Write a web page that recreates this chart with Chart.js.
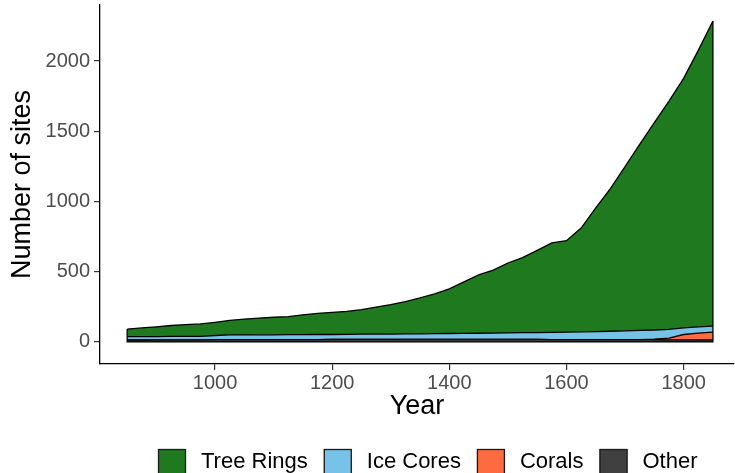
<!DOCTYPE html>
<html>
<head>
<meta charset="utf-8">
<script src="https://cdn.jsdelivr.net/npm/chart.js@4/dist/chart.umd.min.js"></script>
<style>
  html, body { margin: 0; padding: 0; background: #ffffff; }
  #wrap { width: 735px; height: 473px; }
</style>
</head>
<body>
<div id="wrap"><canvas id="c" width="735" height="473"></canvas></div>
<script>
const years = [850,875,900,925,950,975,1000,1025,1050,1075,1100,1125,1150,1175,1200,1225,1250,1275,1300,1325,1350,1375,1400,1425,1450,1475,1500,1525,1550,1575,1600,1625,1650,1675,1700,1725,1750,1775,1800,1825,1850];
const otherSites = [14,14,15,15,15,15,16,16,16,17,17,17,17,17,18,18,18,18,18,18,18,18,18,18,18,18,18,18,18,17,17,17,17,17,16,16,16,15,15,15,15];
const coralSites = [0,0,0,0,0,0,0,0,0,0,0,0,0,0,0,0,0,0,0,0,0,0,0,0,0,0,0,0,0,0,0,0,0,0,0,1,4,12,38,48,55];
const iceCoreSites = [24,24,23,24,24,25,30,34,34,34,34,35,35,36,35,36,37,37,38,39,40,41,42,43,44,45,46,48,49,51,53,55,57,59,63,65,65,63,47,45,42];
const treeRingSites = [54,62,70,78,84,88,94,103,113,119,125,128,141,150,158,163,175,193,210,230,255,283,318,367,415,449,498,534,585,637,651,739,880,1016,1169,1325,1476,1625,1777,1968,2173];
const yTicks = [0,500,1000,1500,2000];
const xTicks = [1000,1200,1400,1600,1800];
const seriesNames = ['Tree Rings','Ice Cores','Corals','Other'];
const seriesColors = ['#1f7a1f','#76c3e7','#ff6b40','#404040'];

const FONT = '"Liberation Sans", Arial, sans-serif';

function pts(arr){ return years.map((y,i)=>({x:y, y:arr[i]})); }

const outlinePlugin = {
  id: 'outline',
  afterDatasetsDraw(chart){
    const ctx = chart.ctx;
    const ys = chart.scales.y;
    const topMeta = chart.getDatasetMeta(3);
    const n = topMeta.data.length;
    const y0 = ys.getPixelForValue(0);
    const xa = topMeta.data[0].x, xb = topMeta.data[n-1].x;
    ctx.save();
    ctx.strokeStyle = '#000';
    ctx.lineWidth = 1.3;
    ctx.beginPath();
    ctx.moveTo(xa, topMeta.data[0].y); ctx.lineTo(xa, y0);
    ctx.lineTo(xb, y0); ctx.lineTo(xb, topMeta.data[n-1].y);
    ctx.stroke();
    ctx.restore();
  }
};

const legendPlugin = {
  id: 'customLegend',
  afterDraw(chart){
    const ctx = chart.ctx;
    ctx.save();
    ctx.font = '22px ' + FONT;
    ctx.textBaseline = 'middle';
    let x = 158;
    const boxTop = 449, box = 28;
    seriesNames.forEach((name,i)=>{
      ctx.fillStyle = seriesColors[i];
      ctx.fillRect(x, boxTop, box, box);
      ctx.strokeStyle = '#1a1a1a';
      ctx.lineWidth = 1.3;
      ctx.strokeRect(x+0.5, boxTop+0.5, box-1, box-1);
      ctx.fillStyle = '#000';
      const tx = x + 43;
      ctx.fillText(name, tx, boxTop + 13);
      x = tx + ctx.measureText(name).width + 16;
    });
    ctx.restore();
  }
};

const common = { pointRadius: 0, borderColor: '#000', borderWidth: 1.3, tension: 0 };

new Chart(document.getElementById('c'), {
  type: 'line',
  data: {
    datasets: [
      Object.assign({label: seriesNames[3], data: pts(otherSites), backgroundColor: seriesColors[3], fill: 'origin'}, common),
      Object.assign({label: seriesNames[2], data: pts(coralSites), backgroundColor: seriesColors[2], fill: '-1'}, common),
      Object.assign({label: seriesNames[1], data: pts(iceCoreSites), backgroundColor: seriesColors[1], fill: '-1'}, common),
      Object.assign({label: seriesNames[0], data: pts(treeRingSites), backgroundColor: seriesColors[0], fill: '-1'}, common)
    ]
  },
  options: {
    responsive: false,
    animation: false,
    layout: { padding: { left: 0, top: 5, right: 1, bottom: 49 } },
    plugins: { legend: { display: false }, tooltip: { enabled: false } },
    scales: {
      x: {
        type: 'linear',
        min: 803.6, max: 1886,
        afterFit(s){ s.height = 60; s.paddingLeft = 0; s.paddingRight = 0; },
        afterBuildTicks(s){ s.ticks = xTicks.map(v=>({value:v})); },
        grid: { drawOnChartArea: false, drawTicks: true, tickLength: 6, color: '#333333', lineWidth: 1.2 },
        border: { display: true, color: '#000', width: 1.3 },
        ticks: { font: { family: FONT, size: 20 }, color: '#4d4d4d', padding: 1, maxRotation: 0, autoSkip: false, callback: v => String(v) },
        title: { display: true, text: 'Year', font: { family: FONT, size: 27 }, color: '#000', padding: { top: 0, bottom: 1 } }
      },
      y: {
        stacked: true,
        min: -157, max: 2399,
        afterFit(s){ s.width = 100; s.paddingTop = 0; s.paddingBottom = 0; },
        afterBuildTicks(s){ s.ticks = yTicks.map(v=>({value:v})); },
        grid: { drawOnChartArea: false, drawTicks: true, tickLength: 6, color: '#333333', lineWidth: 1.2 },
        border: { display: true, color: '#000', width: 1.3 },
        ticks: { font: { family: FONT, size: 20 }, color: '#4d4d4d', padding: 4, callback: v => String(v) },
        title: { display: true, text: 'Number of sites', font: { family: FONT, size: 27 }, color: '#000', padding: { top: 6, bottom: 0 } }
      }
    }
  },
  plugins: [outlinePlugin, legendPlugin]
});
</script>
</body>
</html>
